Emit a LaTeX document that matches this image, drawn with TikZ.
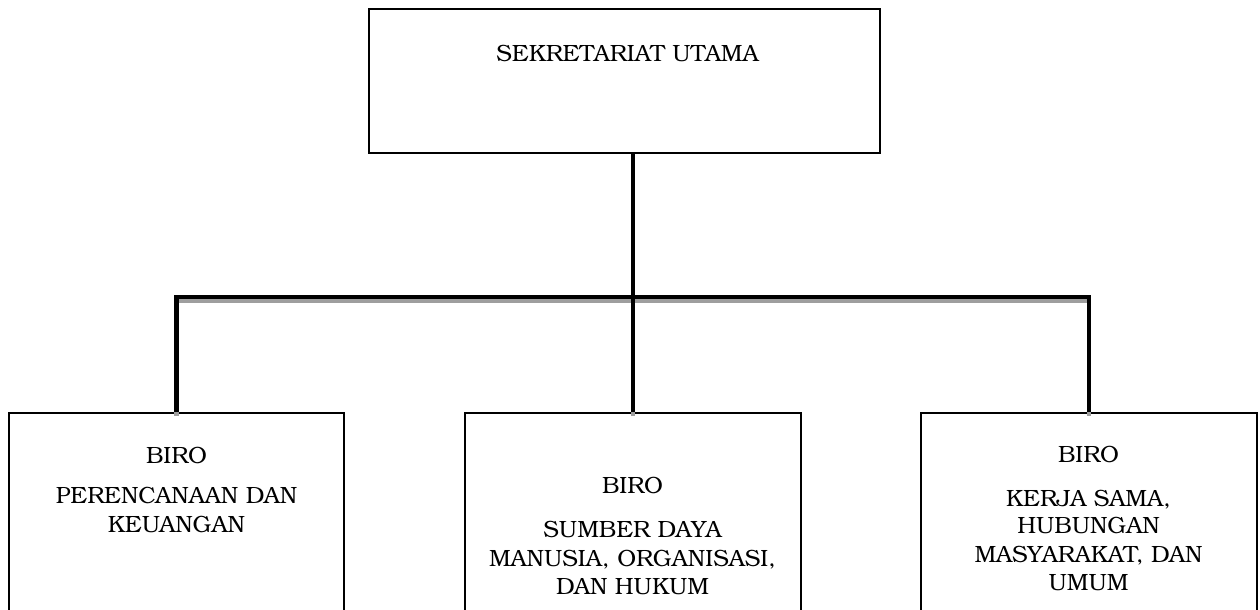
\documentclass[tikz,border=0pt]{standalone}
\usepackage{fontspec}
\setmainfont{TeX Gyre Bonum}
\begin{document}
\begin{tikzpicture}[x=0.5bp,y=-0.5bp,
  box/.style={draw=black, line width=1bp, rectangle, inner sep=0pt},
  conn/.style={line width=2.2bp, black},
  shadow/.style={line width=2.2bp, black!38},
  txt/.style={anchor=base, inner sep=0pt, font=\fontsize{11.8}{14}\selectfont}]
\useasboundingbox (0,0) rectangle (1260,610);

% boxes
\node[box, minimum width=255.5bp, minimum height=72bp] (top) at (624.5,81) {};
\node[box, minimum width=167.5bp, minimum height=113.5bp] (left) at (176.5,526.5) {};
\node[box, minimum width=168bp, minimum height=113.5bp] (mid) at (633,526.5) {};
\node[box, minimum width=168bp, minimum height=113.5bp] (right) at (1089,526.5) {};

% distribution bar with its grey shadow
\coordinate (bus) at (633,297);
\draw[shadow] ([yshift=-2bp]left.north |- bus) -- ([yshift=-2bp]right.north |- bus);
\foreach \b in {left,mid,right}
  \draw[shadow] (\b.north) -- ++(0,4);
\draw[conn, line cap=rect] (left.north |- bus) -- (right.north |- bus);
\draw[conn] (top.south -| mid.north) -- (mid.north);
\draw[conn] (left.north |- bus) -- (left.north);
\draw[conn] (right.north |- bus) -- (right.north);

% labels
\node[txt] (t0) at (627.5,62) {SEKRETARIAT UTAMA};

\node[txt] (l1) at (176.5,463) {BIRO};
\node[txt] (l2) at (176.5,503) {PERENCANAAN DAN};
\node[txt] (l3) at (176.5,532) {KEUANGAN};

\node[txt] (m1) at (632.5,493) {BIRO};
\node[txt] (m2) at (632.5,537) {SUMBER DAYA};
\node[txt] (m3) at (632.5,566) {MANUSIA, ORGANISASI,};
\node[txt] (m4) at (632.5,594) {DAN HUKUM};

\node[txt] (r1) at (1088.5,462) {BIRO};
\node[txt] (r2) at (1088.5,506) {KERJA SAMA,};
\node[txt] (r3) at (1088.5,533) {HUBUNGAN};
\node[txt] (r4) at (1088.5,562) {MASYARAKAT, DAN};
\node[txt] (r5) at (1088.5,590) {UMUM};
\end{tikzpicture}
\end{document}
